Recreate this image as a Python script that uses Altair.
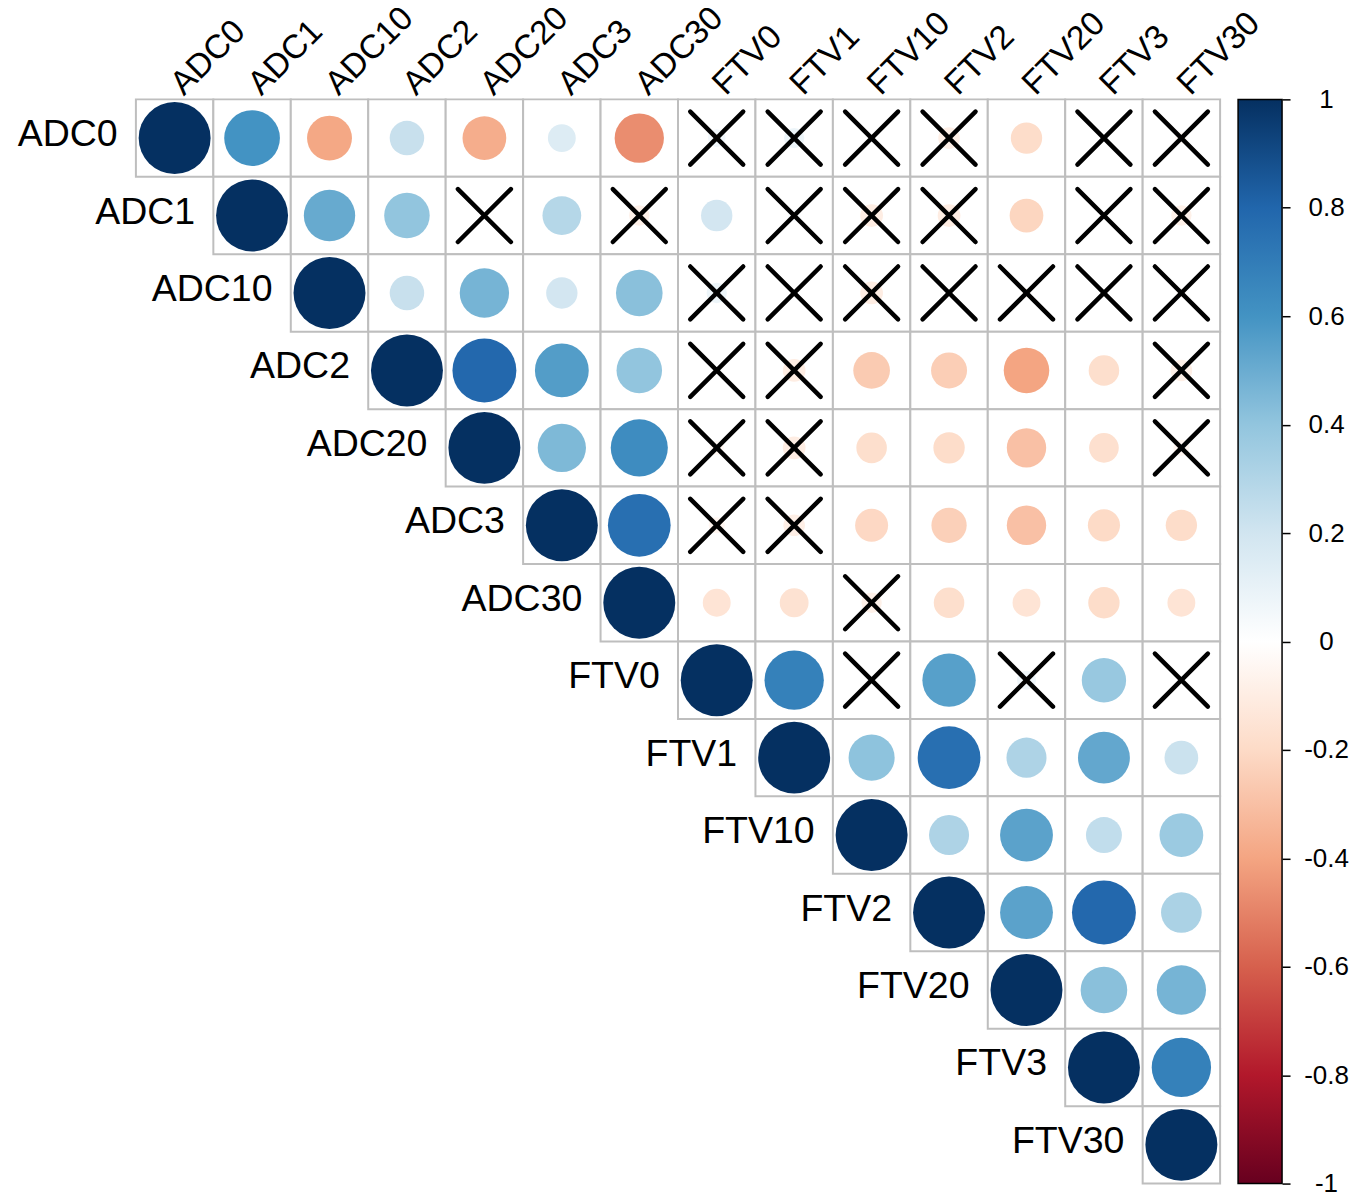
import altair as alt
import pandas as pd

variables = ["ADC0", "ADC1", "ADC10", "ADC2", "ADC20", "ADC3", "ADC30",
             "FTV0", "FTV1", "FTV10", "FTV2", "FTV20", "FTV3", "FTV30"]

# upper-triangle correlations, each row starts at the diagonal
r_ADC0 = [1, 0.60, -0.39, 0.23, -0.37, 0.15, -0.47, 0.06, 0.08, 0.01, -0.09, -0.19, -0.01, -0.03]
r_ADC1 = [1, 0.51, 0.40, 0.00, 0.29, -0.08, 0.19, 0.03, -0.10, -0.10, -0.22, 0.00, -0.08]
r_ADC10 = [1, 0.23, 0.47, 0.19, 0.42, 0.08, 0.00, -0.10, 0.00, -0.02, -0.01, -0.02]
r_ADC2 = [1, 0.79, 0.56, 0.40, 0.00, -0.10, -0.26, -0.25, -0.40, -0.18, -0.09]
r_ADC20 = [1, 0.45, 0.63, -0.04, -0.10, -0.18, -0.19, -0.30, -0.17, -0.05]
r_ADC3 = [1, 0.76, -0.05, -0.09, -0.21, -0.24, -0.30, -0.20, -0.19]
r_ADC30 = [1, -0.15, -0.16, -0.08, -0.18, -0.15, -0.19, -0.15]
r_FTV0 = [1, 0.68, 0.00, 0.55, 0.07, 0.38, 0.00]
r_FTV1 = [1, 0.41, 0.76, 0.31, 0.52, 0.22]
r_FTV10 = [1, 0.31, 0.54, 0.25, 0.37]
r_FTV2 = [1, 0.54, 0.79, 0.32]
r_FTV20 = [1, 0.42, 0.47]
r_FTV3 = [1, 0.68]
r_FTV30 = [1]

# non-significant pairs (crossed out)
ns_ADC0 = ["FTV0", "FTV1", "FTV10", "FTV2", "FTV3", "FTV30"]
ns_ADC1 = ["ADC20", "ADC30", "FTV1", "FTV10", "FTV2", "FTV3", "FTV30"]
ns_ADC10 = ["FTV0", "FTV1", "FTV10", "FTV2", "FTV20", "FTV3", "FTV30"]
ns_ADC2 = ["FTV0", "FTV1", "FTV30"]
ns_ADC20 = ["FTV0", "FTV1", "FTV30"]
ns_ADC3 = ["FTV0", "FTV1"]
ns_ADC30 = ["FTV10"]
ns_FTV0 = ["FTV10", "FTV20", "FTV30"]

palette = ["#67001F", "#B2182B", "#D6604D", "#F4A582", "#FDDBC7", "#FFFFFF",
           "#D1E5F0", "#92C5DE", "#4393C3", "#2166AC", "#053061"]
legend_ticks = [-1, -0.8, -0.6, -0.4, -0.2, 0, 0.2, 0.4, 0.6, 0.8, 1]

row_values = {
    "ADC0": r_ADC0, "ADC1": r_ADC1, "ADC10": r_ADC10, "ADC2": r_ADC2,
    "ADC20": r_ADC20, "ADC3": r_ADC3, "ADC30": r_ADC30, "FTV0": r_FTV0,
    "FTV1": r_FTV1, "FTV10": r_FTV10, "FTV2": r_FTV2, "FTV20": r_FTV20,
    "FTV3": r_FTV3, "FTV30": r_FTV30,
}
nonsig = {"ADC0": ns_ADC0, "ADC1": ns_ADC1, "ADC10": ns_ADC10, "ADC2": ns_ADC2,
          "ADC20": ns_ADC20, "ADC3": ns_ADC3, "ADC30": ns_ADC30, "FTV0": ns_FTV0}

recs = []
for i, v in enumerate(variables):
    for k, r in enumerate(row_values[v]):
        col = variables[i + k]
        recs.append({"row": v, "col": col, "r": r, "absr": abs(r),
                     "ns": col in nonsig.get(v, [])})
df = pd.DataFrame(recs)

FONT = "Liberation Sans"
band = alt.Scale(domain=variables, type="band", paddingInner=0, paddingOuter=0)
X = alt.X("col:N", scale=band, title=None,
          axis=alt.Axis(orient="top", labelAngle=-45, labelAlign="left",
                        labelBaseline="middle", labelPadding=10.5, labelOffset=2,
                        ticks=False, domain=False, labelFontSize=33.5, labelFont=FONT,
                        labelColor="black", labelOverlap=False, labelLimit=400))
Y = alt.Y("row:N", scale=band, axis=None)

base = alt.Chart(df)
cells = base.mark_rect(fill="white", stroke="#BEBEBE", strokeWidth=2).encode(x=X, y=Y)
circles = base.mark_circle(opacity=1).encode(
    x=X, y=Y,
    size=alt.Size("absr:Q", scale=alt.Scale(domain=[0, 1], range=[0, 5184]), legend=None),
    color=alt.Color("r:Q", scale=alt.Scale(domain=legend_ticks, range=palette,
                                           interpolate="rgb"), legend=None),
)
crosses = base.transform_filter("datum.ns").mark_point(
    shape="M-1,-1L1,1M1,-1L-1,1", size=2809, filled=False, color="black",
    strokeWidth=4.5, strokeCap="round", opacity=1
).encode(x=X, y=Y)
labels = base.transform_filter("datum.row == datum.col").mark_text(
    align="right", baseline="middle", dx=-57, dy=-3, fontSize=37.5, font=FONT,
    color="black"
).encode(x=X, y=Y, text="row:N")

main = alt.layer(cells, circles, crosses, labels).properties(width=1085, height=1085)

cb_df = pd.DataFrame({"lo": [legend_ticks[0]], "hi": [legend_ticks[-1]]})
grad = alt.LinearGradient(
    gradient="linear",
    stops=[alt.GradientStop(offset=i / (len(palette) - 1), color=c) for i, c in enumerate(palette)],
    x1=0, x2=0, y1=1, y2=0,
)
cbar = alt.Chart(cb_df).mark_rect(fill=grad, stroke="black", strokeWidth=1.5).encode(
    x=alt.datum(0, scale=alt.Scale(domain=[0, 1]), axis=None),
    x2=alt.datum(1),
    y=alt.Y("lo:Q", scale=alt.Scale(domain=[-1, 1], nice=False, zero=False),
            axis=alt.Axis(orient="right", values=legend_ticks, title=None,
                          labelExpr="datum.value < 0 ? '-' + format(-datum.value, '.1~f') : format(datum.value, '.1~f')",
                          tickSize=8, tickWidth=1.5, tickColor="black", domain=False,
                          grid=False, labelAlign="center", labelBaseline="middle",
                          labelPadding=36, labelFontSize=26, labelFont=FONT,
                          labelColor="black", labelOverlap=False)),
    y2="hi:Q",
).properties(width=44, height=1085)

chart = alt.hconcat(main, cbar, spacing=18, bounds="flush").configure_view(
    stroke=None
).properties(padding={"left": 9, "top": -8, "right": 5, "bottom": 5})

chart.save("out.html", embed_options={"renderer": "svg", "actions": False})
